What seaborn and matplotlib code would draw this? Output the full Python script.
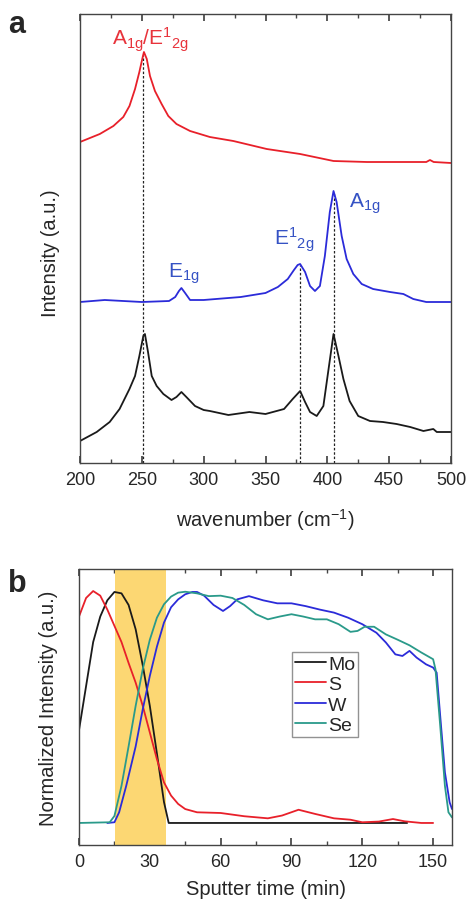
import seaborn as sns
import matplotlib.pyplot as plt
from matplotlib.ticker import MultipleLocator

sns.set_theme(style="ticks")
plt.rcParams['font.family'] = ['Liberation Sans', 'DejaVu Sans']
plt.rcParams['mathtext.default'] = 'regular'

# ---- panel a: Raman spectra (offset, arbitrary units) ----
wn_red = [200, 216, 227, 235, 240, 244.5, 248, 250.7, 251.7, 254, 256.6, 260.6, 266, 271.4,
          278, 289, 305, 324, 351, 378, 405, 432, 459, 480, 483, 486, 500]
int_red = [321, 329, 337, 346, 357, 374, 391, 406, 411, 404, 387, 372, 359, 347,
           339, 332, 326, 322, 314, 309, 302, 301, 301, 301, 303, 301, 300]

wn_blue = [200, 220, 250, 272, 277, 280, 282, 285, 289, 300, 330, 350, 360, 368, 373, 376,
           378, 382, 386, 390, 394, 398, 402, 405, 407.5, 411.6, 415.6, 421, 427.8, 437,
           450.7, 461.5, 469.5, 480, 500]
int_blue = [161, 163, 161, 162, 166, 172, 175, 170, 163, 163, 166, 170, 176, 184, 193, 198,
            199, 191, 177, 172, 177, 207, 251, 272, 261, 227, 204, 189, 179, 174,
            171, 169, 164, 161, 161]

wn_black = [200, 213.5, 224, 232, 240, 244.5, 248, 251.2, 252.5, 255, 258, 262, 267.4, 274,
            278, 282, 286, 293, 300, 305, 320, 337, 350, 365, 372, 378, 382, 386, 391.4,
            396.8, 401, 405, 409, 413, 418, 425, 434.5, 445, 456, 467, 477.7, 485.7, 488.5, 500]
int_black = [22, 31, 41, 54, 74, 87, 107, 127, 129, 111, 87, 77, 69, 63,
             66, 71, 66, 57, 53, 52, 48, 51, 49, 54, 64, 72, 61, 51, 47,
             57, 94, 129, 107, 84, 62, 47, 42, 41, 39, 36, 32, 34, 31, 31]

peak_pos = [251, 378, 405]
peak_top = [408, 198, 270]

labels_a = ["A$_{1g}$/E$^1$$_{2g}$", "E$_{1g}$", "E$^1$$_{2g}$", "A$_{1g}$"]
labels_a_x = [257, 284, 373, 430]
labels_a_y = [419, 186, 219, 256]
labels_a_col = ["#e8333b", "#3552c4", "#3552c4", "#3552c4"]

# ---- panel b: depth profile ----
t_mo = [0, 3, 6, 9, 12, 15, 18, 21, 24, 27, 30, 33, 36, 38, 139]
mo = [0.40, 0.59, 0.78, 0.89, 0.96, 0.996, 0.99, 0.94, 0.835, 0.68, 0.505, 0.30, 0.09, 0.0, 0.0]

t_s = [0, 3, 6, 9, 12, 15, 18, 21, 24, 27, 30, 33, 36, 39, 42, 45, 50, 60, 70, 80, 86, 93,
       100, 108, 115, 120, 127, 133, 138, 145, 150]
s = [0.89, 0.97, 1.0, 0.98, 0.92, 0.85, 0.78, 0.69, 0.605, 0.505, 0.39, 0.275, 0.175, 0.118,
     0.082, 0.06, 0.046, 0.043, 0.029, 0.02, 0.032, 0.057, 0.039, 0.02, 0.014, 0.003, 0.006,
     0.017, 0.007, 0.0, 0.0]

t_w = [12, 15, 17, 20, 24, 27, 30, 33, 36, 39, 42, 45, 48, 50, 53, 57, 61, 64, 67, 72, 78,
       84, 90, 96, 102, 108, 114, 120, 126, 130, 134, 137, 140, 143, 147, 150, 151.5, 153,
       155, 157, 158]
w = [0, 0.003, 0.046, 0.16, 0.33, 0.49, 0.634, 0.76, 0.864, 0.93, 0.964, 0.986, 0.996, 0.996,
     0.98, 0.94, 0.914, 0.935, 0.964, 0.978, 0.96, 0.947, 0.947, 0.935, 0.92, 0.907, 0.885,
     0.857, 0.82, 0.778, 0.727, 0.72, 0.742, 0.713, 0.684, 0.67, 0.648, 0.462, 0.218, 0.089, 0.06]

t_se = [0, 13, 15, 18, 21, 24, 27, 30, 33, 36, 39, 42, 45, 50, 55, 60, 65, 70, 75, 80, 85, 90,
        95, 100, 105, 110, 115, 118, 121, 125, 130, 135, 140, 145, 150, 151, 153, 155, 156.5, 158]
se = [0, 0.003, 0.03, 0.16, 0.33, 0.505, 0.663, 0.79, 0.885, 0.943, 0.976, 0.993, 0.997, 0.99,
      0.978, 0.98, 0.97, 0.94, 0.9, 0.878, 0.89, 0.9, 0.89, 0.878, 0.878, 0.857, 0.824, 0.828,
      0.846, 0.846, 0.813, 0.79, 0.766, 0.735, 0.706, 0.663, 0.42, 0.16, 0.046, 0.024]

interface = (15.3, 36.8)

fig = plt.figure(figsize=(4.66, 9.04), dpi=100)
ax = fig.add_axes([80 / 466, 1 - 464 / 904, 371 / 466, 449 / 904])
ax2 = fig.add_axes([79 / 466, 1 - 846 / 904, 373 / 466, 276 / 904])

# panel a
ax.vlines(peak_pos, 0, peak_top, colors="#222222", linestyles=(0, (2, 1.5)), linewidth=0.9)
sns.lineplot(x=wn_red, y=int_red, ax=ax, color="#e8202a", linewidth=1.3, estimator=None)
sns.lineplot(x=wn_blue, y=int_blue, ax=ax, color="#2b2bd9", linewidth=1.3, estimator=None)
sns.lineplot(x=wn_black, y=int_black, ax=ax, color="#1a1a1a", linewidth=1.3, estimator=None)
for lab, lx, ly, c in zip(labels_a, labels_a_x, labels_a_y, labels_a_col):
    ax.text(lx, ly, lab, color=c, fontsize=15, ha="center", va="baseline")
ax.set_xlim(200, 500)
ax.set_ylim(0, 449)
ax.set_yticks([])
ax.xaxis.set_major_locator(MultipleLocator(50))
ax.xaxis.set_minor_locator(MultipleLocator(25))
ax.set_xlabel("wavenumber (cm$^{-1}$)", fontsize=14.5, labelpad=13)
ax.set_ylabel("Intensity (a.u.)", fontsize=14.5)
ax.yaxis.set_label_coords(-0.055, 0.47)

# panel b
ax2.axvspan(*interface, color="#fcd773", lw=0)
sns.lineplot(x=t_mo, y=mo, ax=ax2, color="#1a1a1a", linewidth=1.3, estimator=None, label="Mo")
sns.lineplot(x=t_s, y=s, ax=ax2, color="#e8202a", linewidth=1.3, estimator=None, label="S")
sns.lineplot(x=t_w, y=w, ax=ax2, color="#2b2bd9", linewidth=1.3, estimator=None, label="W")
sns.lineplot(x=t_se, y=se, ax=ax2, color="#2a9a8a", linewidth=1.3, estimator=None, label="Se")
ax2.set_xlim(0, 158)
ax2.set_ylim(-0.095, 1.095)
ax2.set_yticks([])
ax2.xaxis.set_major_locator(MultipleLocator(30))
ax2.xaxis.set_minor_locator(MultipleLocator(15))
ax2.set_xlabel("Sputter time (min)", fontsize=14.5, labelpad=6)
ax2.set_ylabel("Normalized Intensity (a.u.)", fontsize=14.5)
ax2.yaxis.set_label_coords(-0.055, 0.5)
leg = ax2.legend(loc="upper left", bbox_to_anchor=(0.571, 0.699), borderaxespad=0,
                 fontsize=14, frameon=True, fancybox=False, handlelength=1.6,
                 handletextpad=0.1, labelspacing=0.15, borderpad=0.15)
leg.get_frame().set_edgecolor("#777777")
leg.get_frame().set_linewidth(1.0)

for a in (ax, ax2):
    for sp in a.spines.values():
        sp.set_color("#444444")
        sp.set_linewidth(1.0)
    a.tick_params(axis="x", which="both", direction="in", top=True, bottom=True,
                  labelsize=13, pad=6, color="#444444")
    a.tick_params(axis="x", which="major", length=5)
    a.tick_params(axis="x", which="minor", length=3)

fig.text(8 / 466, 1 - 33 / 904, "a", fontsize=22, fontweight="bold", ha="left", va="baseline")
fig.text(8 / 466, 1 - 592 / 904, "b", fontsize=22, fontweight="bold", ha="left", va="baseline")

fig.savefig("out.png", dpi=100)
